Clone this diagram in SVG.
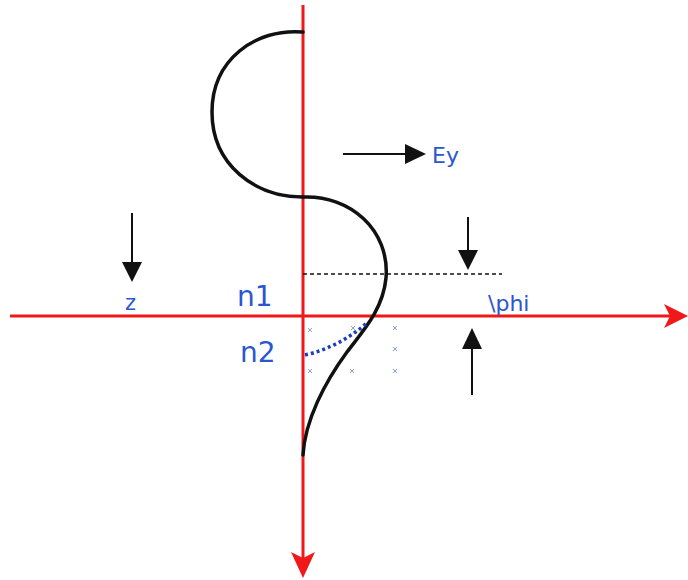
<svg xmlns="http://www.w3.org/2000/svg" width="688" height="580" viewBox="0 0 688 580">
<style>
.axis{stroke:#f01818;stroke-width:3;fill:none}
.curve{stroke:#111;stroke-width:3.5;fill:none;stroke-linecap:round}
.arr{stroke:#111;stroke-width:2;fill:none}
.lbl{fill:#2a56d0;font-family:"DejaVu Sans",sans-serif}
.xm{stroke:#8aa0e0;stroke-width:1}
</style>
<rect width="688" height="580" fill="#fff"/>
<g id="axes">
<line class="axis" x1="303" y1="5" x2="303" y2="562"/>
<path d="M291,552 L303,578 L315,552 L303,558 Z" fill="#f01818"/>
<line class="axis" x1="10" y1="316" x2="676" y2="316"/>
<path d="M664,304 L688,316 L664,328 L670,316 Z" fill="#f01818"/>
</g>
<g id="curve">
<path class="curve" d="M303,32 C255,28 212,60 212,112 C212,165 255,197 303,197"/>
<path class="curve" d="M303,197 C350,195 390,230 386,278 C383,310 362,332 347,352 C325,382 305,420 303,455"/>
<path d="M305,355 Q340,347 368,322" stroke="#1a3fbf" stroke-width="3.5" stroke-dasharray="3,3" fill="none"/>
</g>
<g id="marks">
<path class="xm" d="M308,328 l4,4 M312,328 l-4,4 M351,326 l4,4 M355,326 l-4,4 M393,326 l4,4 M397,326 l-4,4 M393,347 l4,4 M397,347 l-4,4 M308,369 l4,4 M312,369 l-4,4 M350,369 l4,4 M354,369 l-4,4 M393,369 l4,4 M397,369 l-4,4"/>
</g>
<g id="dashed">
<line x1="303" y1="274" x2="502" y2="274" stroke="#111" stroke-width="1.5" stroke-dasharray="4,3"/>
</g>
<g id="connectors">
<line class="arr" x1="343" y1="154" x2="408" y2="154"/>
<path d="M405,144 L426,154 L405,164 Z" fill="#111"/>
<line class="arr" x1="468" y1="217" x2="468" y2="252"/>
<path d="M458,250 L468,270 L478,250 Z" fill="#111"/>
<line class="arr" x1="472" y1="395" x2="472" y2="346"/>
<path d="M462,349 L472,328 L482,349 Z" fill="#111"/>
<line class="arr" x1="132" y1="213" x2="132" y2="264"/>
<path d="M122,262 L132,282 L142,262 Z" fill="#111"/>
</g>
<g id="labels">
<text class="lbl" x="432" y="163" font-size="22">Ey</text>
<text class="lbl" x="125" y="310" font-size="21">z</text>
<text class="lbl" x="237" y="306" font-size="28">n1</text>
<text class="lbl" x="240" y="362" font-size="28">n2</text>
<text class="lbl" x="488" y="311" font-size="22">\phi</text>
</g>
</svg>
